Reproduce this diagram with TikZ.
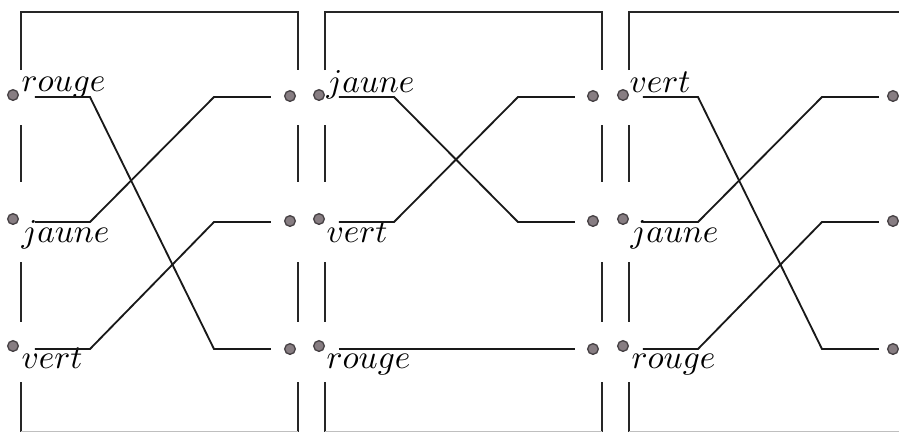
\documentclass[tikz,border=0pt]{standalone}
\usetikzlibrary{calc}
\definecolor{dotfill}{RGB}{135,125,130}
\definecolor{dotline}{RGB}{70,65,68}
\begin{document}
\begin{tikzpicture}[x=0.3pt,y=-0.3pt,
  wall/.style={line width=0.6pt,black!85},
  wire/.style={line width=0.55pt,black!90},
  pin/.style={circle,inner sep=0pt,minimum size=3.2pt,fill=dotfill,draw=dotline,line width=0.4pt},
  lab/.style={inner sep=0pt,anchor=base west,font=\fontsize{10.3}{12}\selectfont}]
\useasboundingbox (0,0) rectangle (899,432);
% frames
\foreach \L/\R in {21/298,325/602}{
  \draw[wall] (\L,70) -- (\L,12) -- (\R,12) -- (\R,70);
}
\draw[wall] (629,70) -- (629,12) -- (899,12);
\foreach \X in {21,298,325,602,629}{
  \draw[wall] (\X,125) -- (\X,182);
  \draw[wall] (\X,262) -- (\X,322);
  \draw[wall] (\X,382) -- (\X,432);
}
\draw[line width=0.3pt,black!25] (21,431) -- (298,431);
\draw[line width=0.3pt,black!25] (325,431) -- (602,431);
\draw[line width=0.3pt,black!25] (629,431) -- (899,431);
% dots
\foreach \p/\a/\b in {1/13/290,2/319/593,3/623/893}{
  \node[pin] (l\p1) at (\a,95) {};
  \node[pin] (l\p2) at (\a,219) {};
  \node[pin] (l\p3) at (\a,346) {};
  \node[pin] (r\p1) at (\b,96) {};
  \node[pin] (r\p2) at (\b,221) {};
  \node[pin] (r\p3) at (\b,349) {};
}
% wire end points
\foreach \p/\L in {1/21,2/325,3/629}{
  \foreach \r/\y in {1/97,2/222,3/349}{
    \coordinate (s\p\r) at (\L+14,\y);
    \coordinate (e\p\r) at (\L+250,\y);
  }
}
% labels
\node[lab] (t11) at (21,91) {$rouge$};
\node[lab] (t12) at (21,242) {$jaune$};
\node[lab] (t13) at (21,368) {$vert$};
\node[lab] (t21) at (326,92) {$jaune$};
\node[lab] (t22) at (326,242) {$vert$};
\node[lab] (t23) at (326,368) {$rouge$};
\node[lab] (t31) at (629,92) {$vert$};
\node[lab] (t32) at (630,242) {$jaune$};
\node[lab] (t33) at (631,368) {$rouge$};
% wires panel 1
\draw[wire] (s11) -- ++(55,0) -- ($(e13)+(-57,0)$) -- (e13);
\draw[wire] (s12) -- ++(55,0) -- ($(e11)+(-57,0)$) -- (e11);
\draw[wire] (s13) -- ++(55,0) -- ($(e12)+(-57,0)$) -- (e12);
% wires panel 2
\draw[wire] (s21) -- ++(55,0) -- ($(e22)+(-57,0)$) -- (e22);
\draw[wire] (s22) -- ++(55,0) -- ($(e21)+(-57,0)$) -- (e21);
\draw[wire] (s23) -- (e23);
% wires panel 3
\draw[wire] (s31) -- ++(55,0) -- ($(e33)+(-57,0)$) -- (e33);
\draw[wire] (s32) -- ++(55,0) -- ($(e31)+(-57,0)$) -- (e31);
\draw[wire] (s33) -- ++(55,0) -- ($(e32)+(-57,0)$) -- (e32);
\end{tikzpicture}
\end{document}
